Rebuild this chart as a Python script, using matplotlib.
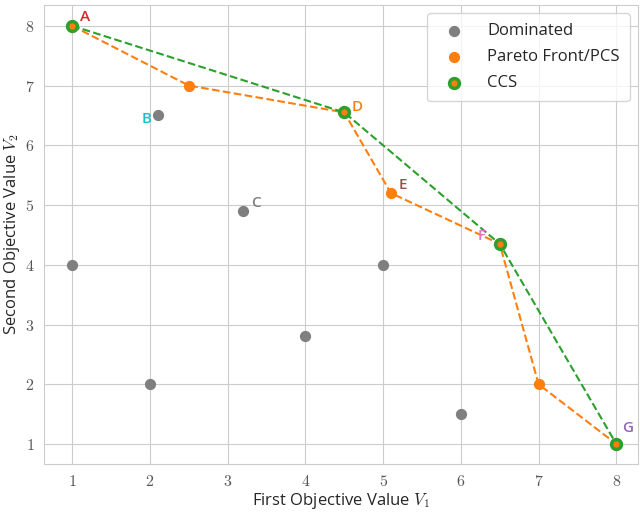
import matplotlib
matplotlib.use("Agg")
import matplotlib.pyplot as plt
from matplotlib.ticker import FuncFormatter
import seaborn as sns

sns.set_style("whitegrid")
plt.rcParams['font.family'] = ['Open Sans', 'DejaVu Sans']
plt.rcParams['mathtext.fontset'] = 'cm'

# dominated solutions
dom_x = [1, 2, 2.1, 3.2, 4, 5, 6]
dom_y = [4, 2, 6.5, 4.9, 2.8, 4, 1.5]

# pareto front / PCS
pf_x = [1, 2.5, 4.5, 5.1, 6.5, 7, 8]
pf_y = [8, 7, 6.55, 5.2, 4.35, 2, 1]

# convex coverage set
ccs_x = [1, 4.5, 6.5, 8]
ccs_y = [8, 6.55, 4.35, 1]

# point labels
lbl_text = ['A', 'B', 'C', 'D', 'E', 'F', 'G']
lbl_x = [1.1, 1.9, 3.3, 4.6, 5.2, 6.22, 8.08]
lbl_y = [8.08, 6.38, 4.97, 6.58, 5.27, 4.41, 1.2]
lbl_col = ['tab:red', 'tab:cyan', 'tab:gray', 'tab:orange', 'tab:brown', 'tab:pink', 'tab:purple']

fig = plt.figure(figsize=(6.4, 5.13), dpi=100)
ax = fig.add_axes([0.069, 0.0955, 0.928, 0.895])

ax.plot(pf_x, pf_y, '--', color='tab:orange', lw=1.5, zorder=2)
ax.plot(ccs_x, ccs_y, '--', color='tab:green', lw=1.5, zorder=2)
ax.scatter(dom_x, dom_y, s=50, color='tab:gray', label='Dominated', zorder=3)
ax.scatter(pf_x, pf_y, s=50, color='tab:orange', label='Pareto Front/PCS', zorder=3)
ax.scatter(ccs_x, ccs_y, s=50, facecolor='tab:orange', edgecolor='tab:green',
           linewidth=2.5, label='CCS', zorder=4)

for t, x, y, c in zip(lbl_text, lbl_x, lbl_y, lbl_col):
    ax.text(x, y, t, color=c, fontsize=11, fontweight='semibold', zorder=5)

ax.set_xlim(0.64, 8.28)
ax.set_ylim(0.665, 8.35)
ax.set_xticks(range(1, 9))
ax.set_yticks(range(1, 9))
fmt = FuncFormatter(lambda v, p: r'$%d$' % v)
ax.xaxis.set_major_formatter(fmt)
ax.yaxis.set_major_formatter(fmt)
ax.tick_params(labelsize=11.5, labelcolor='#555555')
ax.set_xlabel(r'First Objective Value $V_1$', fontsize=12, labelpad=1)
ax.set_ylabel(r'Second Objective Value $V_2$', fontsize=12, labelpad=2)
ax.legend(loc='upper right', fontsize=12, borderpad=0.6, labelspacing=0.6,
          handletextpad=1.0)

fig.savefig('out.png', dpi=100)
